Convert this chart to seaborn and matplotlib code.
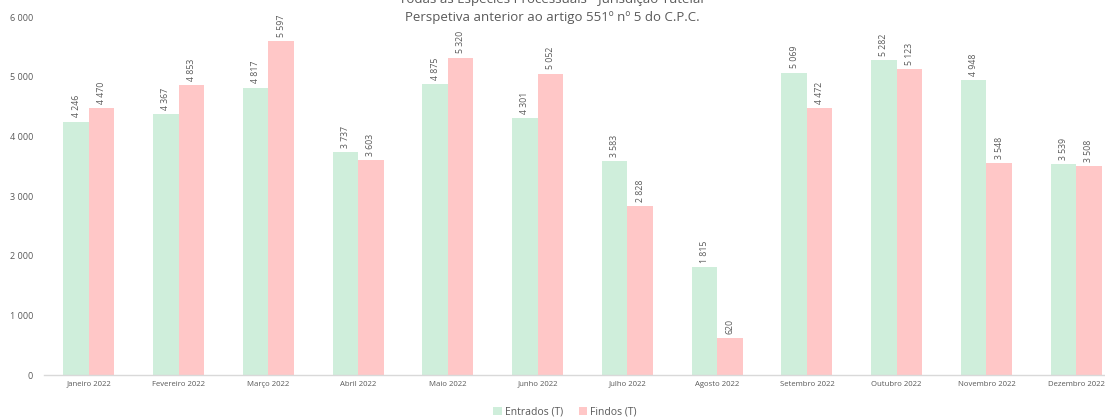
import matplotlib
matplotlib.use("Agg")
import matplotlib.pyplot as plt
import pandas as pd
import seaborn as sns

meses = ["Janeiro 2022", "Fevereiro 2022", "Março 2022", "Abril 2022", "Maio 2022",
         "Junho 2022", "Julho 2022", "Agosto 2022", "Setembro 2022", "Outubro 2022",
         "Novembro 2022", "Dezembro 2022"]
entrados = [4246, 4367, 4817, 3737, 4875, 4301, 3583, 1815, 5069, 5282, 4948, 3539]
findos = [4470, 4853, 5597, 3603, 5320, 5052, 2828, 620, 4472, 5123, 3548, 3508]
series = ["Entrados (T)", "Findos (T)"]
yticks = [0, 1000, 2000, 3000, 4000, 5000, 6000]

df = pd.DataFrame({
    "Mês": meses * 2,
    "Valor": entrados + findos,
    "Série": [series[0]] * len(meses) + [series[1]] * len(meses),
})

sns.set_theme(style="white")
plt.rcParams["font.family"] = ["Open Sans", "DejaVu Sans"]

cores = {"Entrados (T)": "#CFEEDB", "Findos (T)": "#FFC7C7"}
texto = "#595959"

fig = plt.figure(figsize=(11.05, 4.19), dpi=100)
ax = fig.add_axes([44 / 1105, 44 / 419, 1077 / 1105, 358 / 419])

sns.barplot(data=df, x="Mês", y="Valor", hue="Série", palette=cores, saturation=1,
            width=0.57, gap=0, linewidth=0, ax=ax, legend=True)

ax.set_ylim(0, 6000)
ax.set_xlim(-0.5, len(meses) - 0.5)
ax.set_yticks(yticks)
ax.set_yticklabels([f"{v:,}".replace(",", " ") for v in yticks], fontsize=6.5, color=texto)
ax.tick_params(axis="x", labelsize=5.6, labelcolor=texto, length=0, pad=4)
ax.tick_params(axis="y", length=0, pad=8)
ax.set_xlabel("")
ax.set_ylabel("")
for s in ["top", "right", "left"]:
    ax.spines[s].set_visible(False)
ax.spines["bottom"].set_color("#D9D9D9")
ax.spines["bottom"].set_linewidth(1)

for cont in ax.containers:
    ax.bar_label(cont, labels=[f"{v:,.0f}".replace(",", " ") for v in cont.datavalues],
                 rotation=90, fontsize=6.3, color=texto, padding=3)

handles, labels = ax.get_legend_handles_labels()
ax.legend(handles, labels, loc="center", bbox_to_anchor=(565 / 1105, 7 / 419),
          bbox_transform=fig.transFigure, ncol=2, frameon=False, fontsize=7.5,
          labelcolor=texto, handlelength=0.8, handleheight=0.8, handletextpad=0.3,
          columnspacing=1.5)

fig.text(0.5, 1.0, "Todas as Espécies Processuais - Jurisdição Tutelar",
         ha="center", va="center", fontsize=9.5, color=texto)
fig.text(0.5, 402 / 419, "Perspetiva anterior ao artigo 551º nº 5 do C.P.C.",
         ha="center", va="center", fontsize=9.5, color=texto)

fig.savefig("out.png", dpi=100)
